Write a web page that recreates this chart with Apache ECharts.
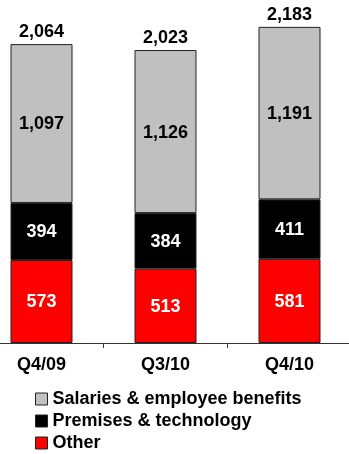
<!DOCTYPE html>
<html>
<head>
<meta charset="utf-8">
<style>
  html, body { margin: 0; padding: 0; background: #fff; }
  #chart { width: 349px; height: 454px; }
</style>
<script src="https://cdn.jsdelivr.net/npm/echarts@6/dist/echarts.min.js"></script>
</head>
<body>
<div id="chart"></div>
<script>
// Quarterly operating expenses by component
const quarters = ['Q4/09', 'Q3/10', 'Q4/10'];
const other = [573, 513, 581];
const premises = [394, 384, 411];
const salaries = [1097, 1126, 1191];
const totals = quarters.map((_, i) => other[i] + premises[i] + salaries[i]);

const FONT = "'Liberation Sans', Arial, sans-serif";
const fmt = v => v.toLocaleString('en-US');

const chart = echarts.init(document.getElementById('chart'), null, { renderer: 'canvas' });

function stackSeries(name, data, color, textColor) {
  return {
    name: name,
    type: 'bar',
    stack: 'cost',
    data: data,
    barWidth: 62,
    itemStyle: { color: color, borderColor: '#222', borderWidth: 1 },
    label: {
      show: true,
      position: 'inside',
      offset: [0, 1],
      color: textColor,
      fontFamily: FONT,
      fontWeight: 'bold',
      fontSize: 18,
      formatter: p => fmt(p.value)
    },
    emphasis: { disabled: true }
  };
}

chart.setOption({
  animation: false,
  backgroundColor: '#fff',
  grid: { left: -20.5, right: -2.5, top: 24.4, bottom: 111, outerBoundsMode: 'none', containLabel: false },
  xAxis: {
    type: 'category',
    data: quarters,
    axisLine: { lineStyle: { color: '#333', width: 1 } },
    axisTick: { show: true, length: 5, lineStyle: { color: '#333' } },
    axisLabel: {
      margin: 13,
      color: '#000',
      fontFamily: FONT,
      fontWeight: 'bold',
      fontSize: 18
    }
  },
  yAxis: {
    type: 'value',
    min: 0,
    max: 2200,
    show: false,
    splitLine: { show: false }
  },
  legend: {
    orient: 'vertical',
    left: 35,
    top: 390,
    padding: 0,
    height: 70,
    itemWidth: 12,
    itemHeight: 12,
    itemGap: 4,
    icon: 'rect',
    data: ['Salaries & employee benefits', 'Premises & technology', 'Other'],
    itemStyle: { borderColor: '#222', borderWidth: 1 },
    textStyle: {
      color: '#000',
      fontFamily: FONT,
      fontWeight: 'bold',
      fontSize: 18,
      lineHeight: 18,
      padding: [0, 0, 0, 0]
    },
    selectedMode: false
  },
  series: [
    stackSeries('Other', other, '#ff0000', '#fff'),
    stackSeries('Premises & technology', premises, '#000000', '#fff'),
    stackSeries('Salaries & employee benefits', salaries, '#c0c0c0', '#000'),
    {
      name: 'Total',
      type: 'bar',
      data: totals,
      barWidth: 62,
      barGap: '-100%',
      z: 1,
      itemStyle: { color: 'rgba(0,0,0,0)' },
      label: {
        show: true,
        position: 'top',
        distance: 3,
        color: '#000',
        fontFamily: FONT,
        fontWeight: 'bold',
        fontSize: 18,
        formatter: p => fmt(p.value)
      },
      emphasis: { disabled: true }
    }
  ]
});
</script>
</body>
</html>
